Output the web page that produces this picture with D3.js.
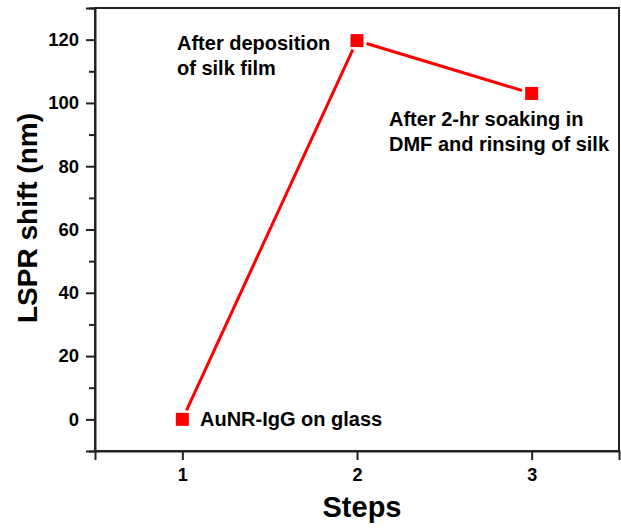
<!DOCTYPE html>
<html><head><meta charset="utf-8">
<script src="https://cdn.jsdelivr.net/npm/d3@7"></script>
<style>body{margin:0;background:#fff}svg{display:block}text{font-family:Arial,"Liberation Sans",sans-serif;font-weight:bold;fill:#000}</style>
</head><body><svg id="c" width="621" height="529"></svg>
<script>
const steps = [1, 2, 3];
const shifts = [0, 119.7, 103];
const labels = [["AuNR-IgG on glass"], ["After deposition", "of silk film"], ["After 2-hr soaking in", "DMF and rinsing of silk"]];
const yTicks = [0, 20, 40, 60, 80, 100, 120];
const yMinor = [-10, 10, 30, 50, 70, 90, 110, 130];
const xTicks = [1, 2, 3];

const W = 621, H = 529;
const m = {l: 95, r: 2, t: 8, b: 78};
const svg = d3.select("#c");
const x = d3.scaleLinear().domain([0.5, 3.5]).range([m.l, W - m.r]);
const y = d3.scaleLinear().domain([-10, 130]).range([H - m.b, m.t]);
const FF = "Arial, 'Liberation Sans', sans-serif";

// frame
svg.append("rect").attr("x", m.l).attr("y", m.t).attr("width", W - m.r - m.l).attr("height", H - m.b - m.t)
  .attr("fill", "none").attr("stroke", "#222").attr("stroke-width", 2);

// y axis
const ya = svg.append("g").attr("transform", `translate(${m.l},0)`)
  .call(d3.axisLeft(y).tickValues(yTicks).tickSize(9).tickPadding(7).tickFormat(d3.format("d")));
ya.select(".domain").attr("stroke", "#222").attr("stroke-width", 2);
ya.selectAll(".tick line").attr("stroke", "#222").attr("stroke-width", 2);
ya.selectAll("text").style("font-size", "18.5px").style("font-family", FF).style("font-weight", "bold");
const ym = svg.append("g").attr("transform", `translate(${m.l},0)`)
  .call(d3.axisLeft(y).tickValues(yMinor).tickSize(6).tickFormat(""));
ym.select(".domain").remove();
ym.selectAll(".tick line").attr("stroke", "#222").attr("stroke-width", 2);

// x axis
const xa = svg.append("g").attr("transform", `translate(0,${H - m.b})`)
  .call(d3.axisBottom(x).tickValues(xTicks).tickSize(9).tickPadding(8).tickFormat(d3.format("d")));
xa.select(".domain").attr("stroke", "#222").attr("stroke-width", 2);
xa.selectAll(".tick line").attr("stroke", "#222").attr("stroke-width", 2);
xa.selectAll("text").style("font-size", "18px").style("font-family", FF).style("font-weight", "bold");

// titles
svg.append("text").attr("x", 362).attr("y", 517).attr("text-anchor", "middle")
  .style("font-size", "29px").text("Steps");
svg.append("text").attr("transform", `translate(37,218) rotate(-90)`).attr("text-anchor", "middle")
  .style("font-size", "28px").text("LSPR shift (nm)");

// line segments with gaps at markers
const pts = steps.map((s, i) => [x(s), y(shifts[i])]);
const gap = 10;
for (let i = 0; i < pts.length - 1; i++) {
  const [x1, y1] = pts[i], [x2, y2] = pts[i + 1];
  const L = Math.hypot(x2 - x1, y2 - y1), ux = (x2 - x1) / L, uy = (y2 - y1) / L;
  svg.append("line").attr("x1", x1 + ux * gap).attr("y1", y1 + uy * gap)
    .attr("x2", x2 - ux * gap).attr("y2", y2 - uy * gap)
    .attr("stroke", "#ff0000").attr("stroke-width", 3);
}
const sz = 13;
svg.selectAll("rect.pt").data(steps).enter().append("rect").attr("class", "pt")
  .attr("x", (d) => x(d) - sz / 2).attr("y", (d, i) => y(shifts[i]) - sz / 2)
  .attr("width", sz).attr("height", sz).attr("fill", "#ff0000");

// annotations
const annPos = [[200, 426], [177, 50], [389, 126]];
labels.forEach((lines, i) => {
  const t = svg.append("text").attr("x", annPos[i][0]).attr("y", annPos[i][1]).style("font-size", "20px");
  lines.forEach((ln, j) => t.append("tspan").attr("x", annPos[i][0]).attr("dy", j ? 24.5 : 0).text(ln));
});
</script></body></html>
